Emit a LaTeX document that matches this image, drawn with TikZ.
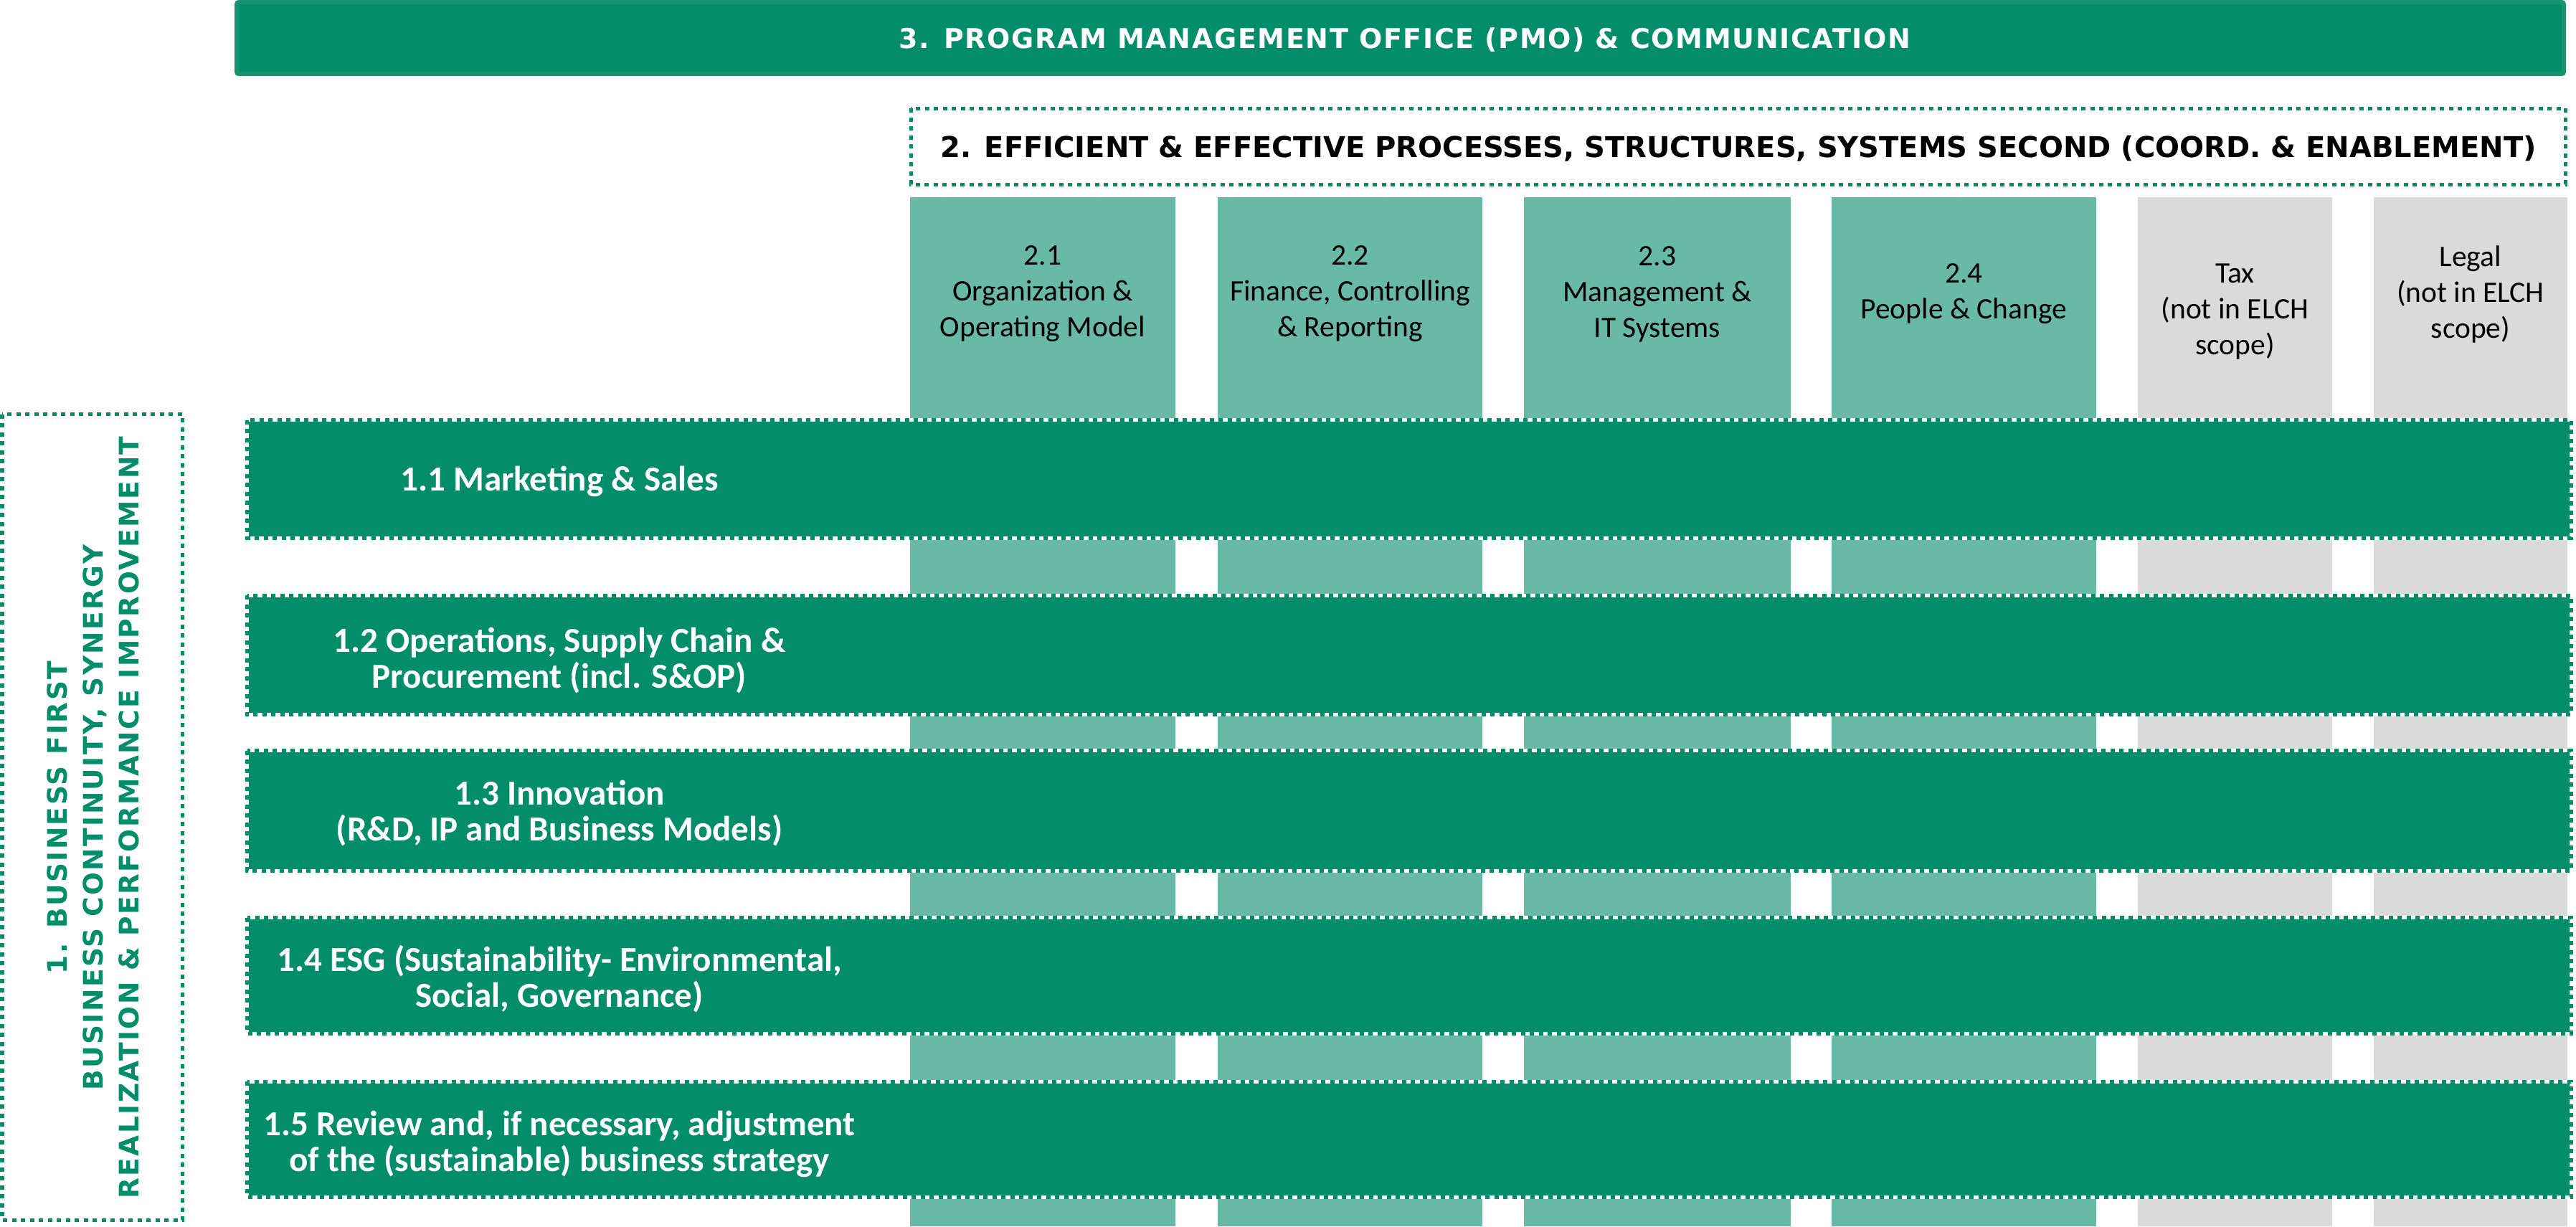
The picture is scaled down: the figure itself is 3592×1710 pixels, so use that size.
\documentclass[tikz,border=0pt]{standalone}
\usepackage{fontspec}
\setmainfont{Carlito}
\newfontfamily\capsA{DejaVu Sans}[LetterSpace=4.4]
\newfontfamily\capsB{DejaVu Sans}
\newfontfamily\capsC{DejaVu Sans}[LetterSpace=6.6]
\definecolor{dg}{RGB}{3,141,107}
\definecolor{lg}{RGB}{104,186,166}
\definecolor{gy}{RGB}{218,218,218}
\definecolor{bg}{RGB}{23,147,110}
\tikzset{
  dbord/.style={draw=dg, line width=1pt, dash pattern=on 1.2pt off 1.3pt,
                preaction={draw=white, solid, line width=1pt}},
  coltext/.style={align=center, inner sep=0pt, text=black,
                  font=\fontsize{8.3pt}{10pt}\selectfont},
  rowtext/.style={align=center, inner sep=0pt, text=white,
                  font=\fontsize{9.8pt}{10pt}\selectfont\bfseries},
  titletext/.style={inner sep=0pt, text=white,
                  font=\capsA\fontsize{7.6pt}{10pt}\selectfont\bfseries},
  box2text/.style={inner sep=0pt, text=black,
                  font=\capsB\fontsize{8.0pt}{10pt}\selectfont\bfseries},
  lefttext/.style={align=center, inner sep=0pt, text=dg, rotate=90,
                  font=\capsC\fontsize{7.5pt}{10pt}\selectfont\bfseries}
}
\begin{document}
\begin{tikzpicture}[x=0.2pt,y=-0.2pt]
\useasboundingbox (0,0) rectangle (3592,1710);
% top bar
\path[fill=dg, draw=bg, line width=1.2pt, rounded corners=0.6pt] (330,3) rectangle (3575,103);
\node[titletext] (pmo) at (1959,56) {3. PROGRAM MANAGEMENT OFFICE (PMO) \& COMMUNICATION};
% box 2
\draw[dbord] (1270,151) rectangle (3577,257);
\node[box2text] (eff) at (2424,207) {2. EFFICIENT \& EFFECTIVE PROCESSES, STRUCTURES, SYSTEMS SECOND (COORD. \& ENABLEMENT)};
% columns
\fill[lg] (1269,275) rectangle (1639,1710);
\fill[lg] (1698,275) rectangle (2067,1710);
\fill[lg] (2125,275) rectangle (2497,1710);
\fill[lg] (2554,275) rectangle (2923,1710);
\fill[gy] (2981,275) rectangle (3252,1710);
\fill[gy] (3310,275) rectangle (3580,1710);
\node[coltext] (c21) at (1454,410) {2.1\\Organization \&\\Operating Model};
\node[coltext] (c22) at (1882.5,410) {2.2\\Finance, Controlling\\\& Reporting};
\node[coltext] (c23) at (2311,410) {2.3\\Management \&\\IT Systems};
\node[coltext] (c24) at (2738.5,410) {2.4\\People \& Change};
\node[coltext] (tax) at (3116.5,435) {Tax\\(not in ELCH\\scope)};
\node[coltext] (legal) at (3445,410) {Legal\\(not in ELCH\\scope)};
% rows
\fill[dg] (344.5,585.5) rectangle (3585.5,750);
\draw[dbord] (344.5,585.5) rectangle (3585.5,750);
\fill[dg] (344.5,830) rectangle (3585.5,996.5);
\draw[dbord] (344.5,830) rectangle (3585.5,996.5);
\fill[dg] (344.5,1046.5) rectangle (3585.5,1214);
\draw[dbord] (344.5,1046.5) rectangle (3585.5,1214);
\fill[dg] (344.5,1279.5) rectangle (3585.5,1441);
\draw[dbord] (344.5,1279.5) rectangle (3585.5,1441);
\fill[dg] (344.5,1508) rectangle (3585.5,1669);
\draw[dbord] (344.5,1508) rectangle (3585.5,1669);
\node[rowtext] (r11) at (780,671) {1.1 Marketing \& Sales};
\node[rowtext] (r12) at (780,921) {1.2 Operations, Supply Chain \&\\Procurement (incl. S\&OP)};
\node[rowtext] (r13) at (780,1134) {1.3 Innovation\\(R\&D, IP and Business Models)};
\node[rowtext] (r14) at (780,1365) {1.4 ESG (Sustainability- Environmental,\\Social, Governance)};
\node[rowtext] (r15) at (780,1595) {1.5 Review and, if necessary, adjustment\\of the (sustainable) business strategy};
% left box
\draw[dbord] (3,577.5) rectangle (254.5,1701.5);
\node[lefttext] (bf) at (130,1140) {1. BUSINESS FIRST\\BUSINESS CONTINUITY, SYNERGY\\REALIZATION \& PERFORMANCE IMPROVEMENT};
\end{tikzpicture}
\end{document}
